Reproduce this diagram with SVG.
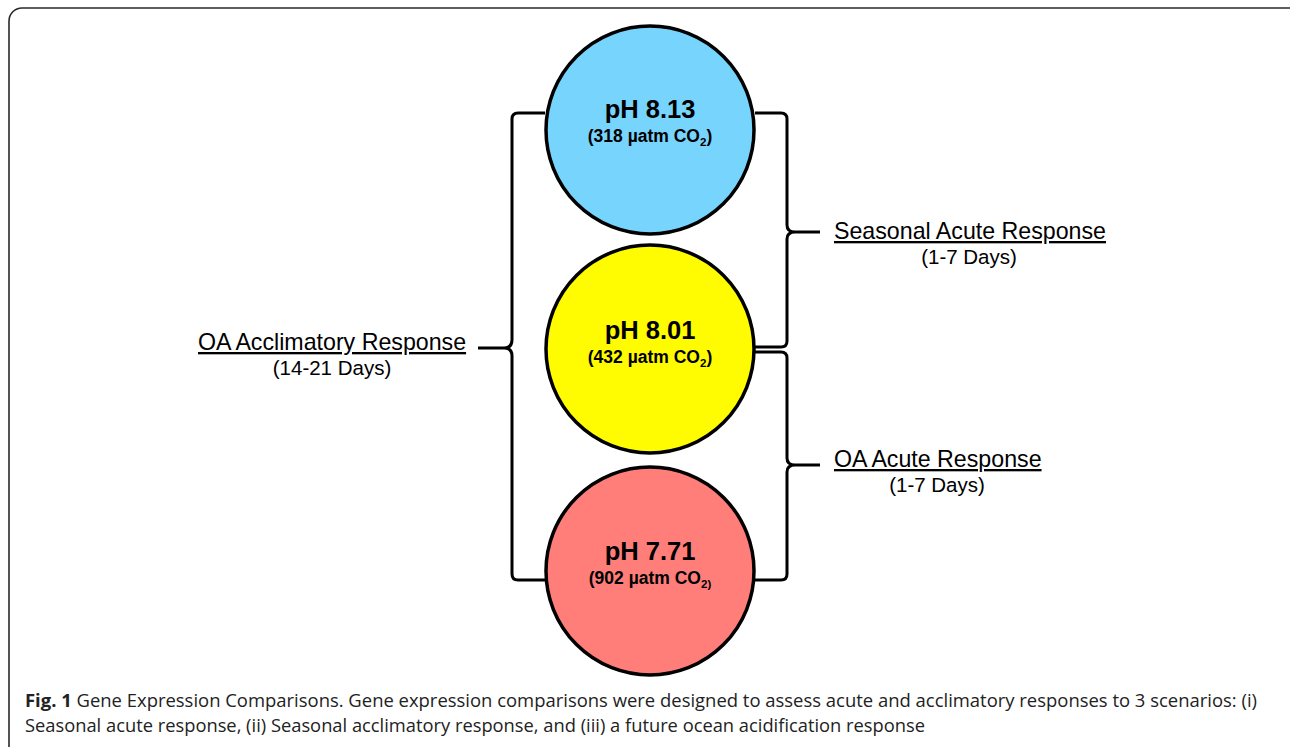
<svg xmlns="http://www.w3.org/2000/svg" width="1290" height="747" viewBox="0 0 1290 747">
<style>
.frame{fill:none;stroke:#2a2a2a;stroke-width:1.6}
.circ{stroke:#000;stroke-width:3.5}
.br{fill:none;stroke:#000;stroke-width:3;stroke-linejoin:round;stroke-linecap:butt}
.ph{font-family:"Liberation Sans",Arial,sans-serif;font-weight:bold;font-size:25.5px;text-anchor:middle;fill:#000}
.co{font-family:"Liberation Sans",Arial,sans-serif;font-weight:bold;font-size:17.5px;text-anchor:middle;fill:#000}
.lab{font-family:"Liberation Sans",Arial,sans-serif;font-size:23.2px;fill:#000;text-decoration:underline}
.days{font-family:"Liberation Sans",Arial,sans-serif;font-size:20.5px;fill:#000;text-anchor:middle}
.cap{font-family:"Open Sans","Noto Sans",sans-serif;font-size:17.5px;fill:#222}
</style>
<rect class="frame" x="9" y="8" width="1300" height="770" rx="13"/>
<g id="connectors">
<path class="br" d="M545,113 H518 Q512,113 512,119 V340 Q512,348 504,348 H478 M504,348 Q512,348 512,356 V574 Q512,580 518,580 H545"/>
<path class="br" d="M755,113 H781 Q787,113 787,119 V225 Q787,232 795,232 H820 M795,232 Q787,232 787,239 V341 Q787,347 781,347 H755"/>
<path class="br" d="M755,352 H781 Q787,352 787,358 V458 Q787,465 795,465 H820 M795,465 Q787,465 787,472 V574 Q787,580 781,580 H755"/>
</g>
<g id="node-ph813">
<circle class="circ" cx="650" cy="130" r="104" fill="#77d4fd"/>
<text class="ph" x="650" y="118">pH 8.13</text>
<text class="co" x="650" y="142">(318 µatm CO<tspan font-size="11.5" dy="4">2</tspan><tspan dy="-4">)</tspan></text>
</g>
<g id="node-ph801">
<circle class="circ" cx="650" cy="349" r="104" fill="#fffb00"/>
<text class="ph" x="650" y="339">pH 8.01</text>
<text class="co" x="650" y="363">(432 µatm CO<tspan font-size="11.5" dy="4">2</tspan><tspan dy="-4">)</tspan></text>
</g>
<g id="node-ph771">
<circle class="circ" cx="650" cy="571" r="104" fill="#ff7e79"/>
<text class="ph" x="650" y="560">pH 7.71</text>
<text class="co" x="650" y="584">(902 µatm CO<tspan font-size="11.5" dy="4">2)</tspan></text>
</g>
<g id="label-oa-acclimatory">
<text class="lab" x="198" y="350">OA Acclimatory Response</text>
<text class="days" x="332" y="375">(14-21 Days)</text>
</g>
<g id="label-seasonal-acute">
<text class="lab" x="834" y="239">Seasonal Acute Response</text>
<text class="days" x="969" y="264">(1-7 Days)</text>
</g>
<g id="label-oa-acute">
<text class="lab" x="834" y="467">OA Acute Response</text>
<text class="days" x="937" y="492">(1-7 Days)</text>
</g>
<g id="caption">
<text class="cap" x="25" y="707" textLength="1232" lengthAdjust="spacingAndGlyphs"><tspan font-weight="bold">Fig. 1</tspan> Gene Expression Comparisons. Gene expression comparisons were designed to assess acute and acclimatory responses to 3 scenarios: (i)</text>
<text class="cap" x="25" y="732" textLength="900" lengthAdjust="spacingAndGlyphs">Seasonal acute response, (ii) Seasonal acclimatory response, and (iii) a future ocean acidification response</text>
</g>
</svg>
